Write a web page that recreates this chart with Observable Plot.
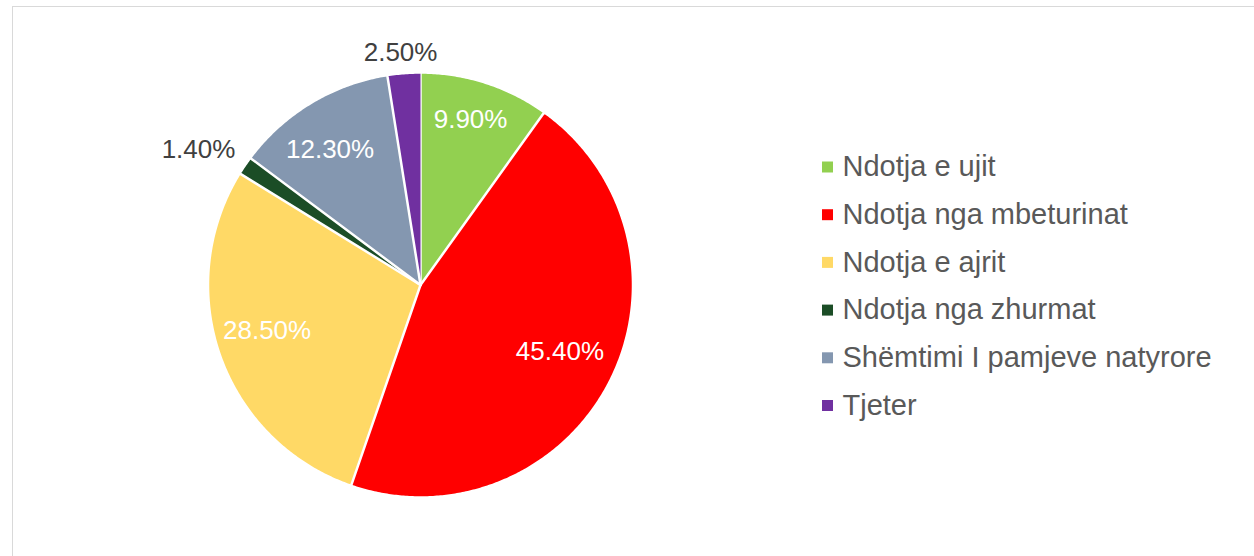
<!DOCTYPE html>
<html>
<head>
<meta charset="utf-8">
<script src="https://cdn.jsdelivr.net/npm/d3@7"></script>
<script src="https://cdn.jsdelivr.net/npm/@observablehq/plot@0.6"></script>
<style>
  html, body { margin: 0; padding: 0; background: #fff; }
  #wrap { position: relative; width: 1254px; height: 556px; overflow: hidden; }
  #border { position: absolute; left: 12px; top: 6px; width: 1241px; height: 600px;
            border-left: 1.5px solid #d9d9d9; border-top: 1.5px solid #d9d9d9; pointer-events: none; }
  #chart { position: absolute; left: 0; top: 0; }
</style>
</head>
<body>
<div id="wrap"><div id="border"></div><div id="chart"></div></div>
<script>
// ---- data ----
const categories = ["Ndotja e ujit", "Ndotja nga mbeturinat", "Ndotja e ajrit", "Ndotja nga zhurmat", "Shëmtimi I pamjeve natyrore", "Tjeter"];
const values = [9.9, 45.4, 28.5, 1.4, 12.3, 2.5];
const labels = ["9.90%", "45.40%", "28.50%", "1.40%", "12.30%", "2.50%"];
const colors = ["#92D050", "#FF0000", "#FFD966", "#1B4D26", "#8497B0", "#7030A0"];

// ---- layout ----
const W = 1254, H = 556;
const cx = 420, cy = 284.5, R = 212.5;
// label placement: radial distance (fraction of radius) and small angle nudge (degrees), per slice
const labelRadius = [0.814, 0.728, 0.753, 1.224, 0.766, 1.098];
const labelAngleNudge = [-1.0, -1.7, 3.1, -2.8, -2.6, -0.4];

const rows = categories.map((c, i) => ({name: c, value: values[i], label: labels[i], i}));
const arcs = d3.pie().sort(null).value(d => d.value)(rows);

// slice polygons in unit-radius data space (angle 0 = 12 o'clock, clockwise)
const slicePts = [];
arcs.forEach(a => {
  const n = Math.max(4, Math.ceil((a.endAngle - a.startAngle) / (Math.PI / 360)));
  slicePts.push({name: a.data.name, x: 0, y: 0});
  for (let k = 0; k <= n; k++) {
    const t = a.startAngle + (a.endAngle - a.startAngle) * k / n;
    slicePts.push({name: a.data.name, x: Math.sin(t), y: Math.cos(t)});
  }
});

// data labels
const labelPts = arcs.map(a => {
  const i = a.data.i;
  const m = (a.startAngle + a.endAngle) / 2 + labelAngleNudge[i] * Math.PI / 180;
  const r = labelRadius[i];
  return {label: a.data.label, x: r * Math.sin(m), y: r * Math.cos(m), inside: r < 1};
});

// legend (positioned in pixel layout, converted to data units)
const legendX = 827, legendTop = 166.5, legendGap = 47.7;
const legendPts = categories.map((c, i) => ({
  name: c,
  x: (legendX - cx) / R,
  tx: (legendX + 15 - cx) / R,
  y: (cy - (legendTop + i * legendGap)) / R
}));

const chart = Plot.plot({
  width: W, height: H,
  margin: 0,
  style: {fontFamily: "'Liberation Sans', Arial, sans-serif", background: "transparent"},
  x: {domain: [-cx / R, (W - cx) / R], range: [0, W], axis: null},
  y: {domain: [(cy - H) / R, cy / R], range: [H, 0], axis: null},
  color: {type: "ordinal", domain: categories, range: colors, legend: false},
  marks: [
    Plot.line(slicePts, {x: "x", y: "y", z: "name", fill: "name", stroke: "white", strokeWidth: 2.5, curve: "linear"}),
    Plot.text(labelPts.filter(d => d.inside), {x: "x", y: "y", text: "label", fill: "white", fontSize: 26, textAnchor: "middle", lineAnchor: "middle"}),
    Plot.text(labelPts.filter(d => !d.inside), {x: "x", y: "y", text: "label", fill: "#404040", fontSize: 26, textAnchor: "middle", lineAnchor: "middle"}),
    Plot.dot(legendPts, {x: "x", y: "y", fill: "name", symbol: "square", r: 6.2, stroke: null}),
    Plot.text(legendPts, {x: "tx", y: "y", text: "name", fill: "#595959", fontSize: 29, textAnchor: "start", lineAnchor: "middle"})
  ]
});
document.getElementById("chart").appendChild(chart);
</script>
</body>
</html>
